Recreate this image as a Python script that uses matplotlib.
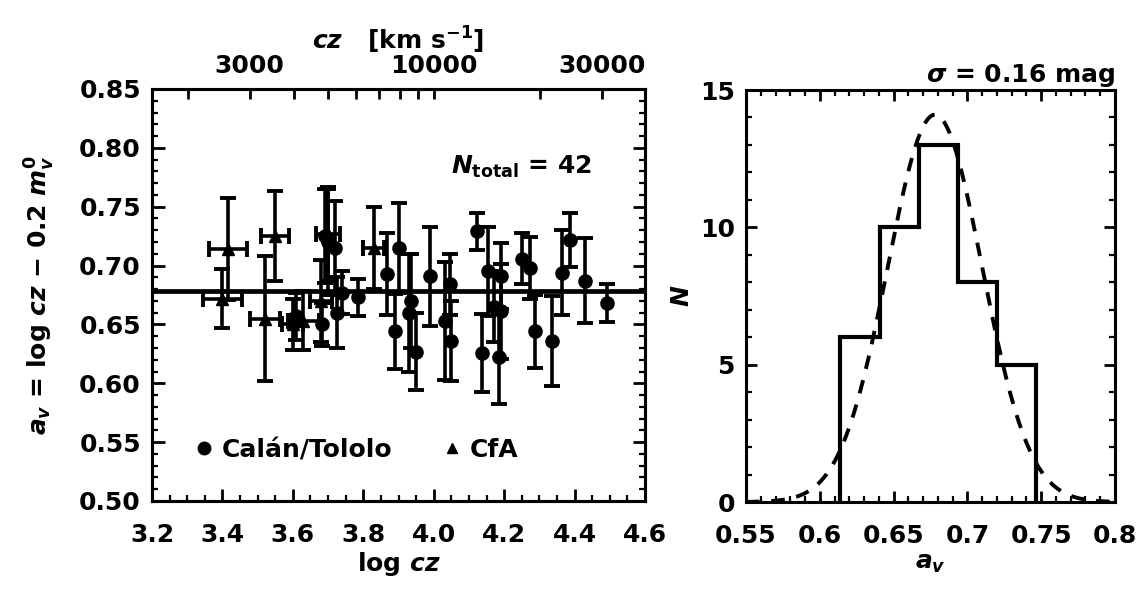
import numpy as np
import matplotlib.pyplot as plt
from matplotlib.ticker import MultipleLocator, FixedLocator, NullFormatter
from matplotlib.lines import Line2D

plt.rcParams.update({
    'font.family': 'DejaVu Sans',
    'font.weight': 'bold',
    'axes.labelweight': 'bold',
    'axes.titleweight': 'bold',
    'font.size': 18,
    'mathtext.fontset': 'custom',
    'mathtext.it': 'DejaVu Sans:bold:italic',
    'mathtext.rm': 'DejaVu Sans:bold',
    'mathtext.bf': 'DejaVu Sans:bold',
    'axes.linewidth': 2.2,
    'xtick.direction': 'in',
    'ytick.direction': 'in',
    'xtick.major.width': 2.0,
    'ytick.major.width': 2.0,
    'xtick.minor.width': 1.6,
    'ytick.minor.width': 1.6,
})

# Calan/Tololo sample: log cz, a_v, error
ct_logcz = [3.700, 3.720, 3.683, 3.740, 3.785, 3.867, 3.900, 3.890, 3.930, 3.950,
            3.935, 3.990, 4.047, 4.032, 4.050, 4.123, 4.155, 4.138, 4.190, 4.190,
            4.185, 4.251, 4.274, 4.288, 4.336, 4.365, 4.387, 4.430, 4.493, 3.690,
            3.725, 3.610, 4.170]
ct_av = [0.720, 0.715, 0.650, 0.677, 0.673, 0.693, 0.715, 0.644, 0.660, 0.627,
         0.670, 0.691, 0.684, 0.653, 0.636, 0.729, 0.695, 0.626, 0.691, 0.661,
         0.622, 0.706, 0.698, 0.644, 0.636, 0.694, 0.722, 0.687, 0.668, 0.725,
         0.660, 0.657, 0.665]
ct_err = [0.045, 0.040, 0.018, 0.018, 0.016, 0.035, 0.038, 0.032, 0.050, 0.033,
          0.040, 0.042, 0.026, 0.050, 0.034, 0.016, 0.038, 0.033, 0.028, 0.040,
          0.040, 0.022, 0.026, 0.031, 0.038, 0.036, 0.023, 0.036, 0.016, 0.040,
          0.030, 0.020, 0.030]

# CfA sample: log cz, a_v, errors in both coordinates
cfa_logcz = [3.416, 3.400, 3.549, 3.521, 3.630, 3.700, 3.830, 3.680, 3.600]
cfa_av = [0.714, 0.672, 0.725, 0.655, 0.653, 0.727, 0.715, 0.670, 0.650]
cfa_yerr = [0.043, 0.025, 0.038, 0.053, 0.025, 0.040, 0.035, 0.035, 0.022]
cfa_xerr = [0.053, 0.055, 0.040, 0.043, 0.043, 0.035, 0.030, 0.030, 0.030]

a_mean = 0.678
n_total = 42

# histogram of a_v
bin_edges = [0.614, 0.6405, 0.667, 0.6935, 0.720, 0.7465]
counts = [6, 10, 13, 8, 5]
g_mu, g_sigma, g_peak = 0.678, 0.032, 14.1

W, H = 1143, 599
fig = plt.figure(figsize=(W / 100, H / 100), dpi=100)
ax1 = fig.add_axes([152 / W, (H - 501) / H, (645 - 152) / W, (501 - 89) / H])
ax2 = fig.add_axes([746 / W, (H - 502) / H, (1115 - 746) / W, (502 - 90) / H])

# --- left: a_v vs log cz
eb = dict(fmt='none', ecolor='k', elinewidth=2.6, capsize=6, capthick=2.8)
ax1.errorbar(ct_logcz, ct_av, yerr=ct_err, **eb)
ax1.plot(ct_logcz, ct_av, 'o', color='k', ms=9.5)
ax1.errorbar(cfa_logcz, cfa_av, xerr=cfa_xerr, yerr=cfa_yerr, **eb)
ax1.plot(cfa_logcz, cfa_av, '^', color='k', ms=8)
ax1.axhline(a_mean, color='k', lw=3.4)

ax1.set_xlim(3.2, 4.6)
ax1.set_ylim(0.50, 0.85)
ax1.xaxis.set_major_locator(MultipleLocator(0.2))
ax1.xaxis.set_minor_locator(MultipleLocator(0.05))
ax1.yaxis.set_major_locator(MultipleLocator(0.05))
ax1.yaxis.set_minor_locator(MultipleLocator(0.01))
ax1.xaxis.set_major_formatter(plt.FormatStrFormatter('%.1f'))
ax1.yaxis.set_major_formatter(plt.FormatStrFormatter('%.2f'))
ax1.tick_params(which='major', length=9, right=True, top=False)
ax1.tick_params(which='minor', length=4, right=True, top=False)
ax1.tick_params(axis='x', pad=16)
ax1.tick_params(axis='y', pad=8)
ax1.set_xlabel(r'log $cz$', labelpad=2)
ax1.set_ylabel(r'$a_v$ = log $cz$ $-$ 0.2 $m_v^0$', labelpad=16)

# top axis in km/s
top = ax1.twiny()
top.set_xlim(ax1.get_xlim())
cz_ticks = [2000, 3000, 4000, 5000, 6000, 7000, 8000, 9000, 10000, 20000, 30000]
cz_labels = {3000: '3000', 10000: '10000', 30000: '30000'}
top.xaxis.set_major_locator(FixedLocator(np.log10(cz_ticks)))
top.set_xticklabels([cz_labels.get(c, '') for c in cz_ticks])
top.xaxis.set_minor_formatter(NullFormatter())
top.tick_params(which='major', length=7, direction='in', pad=8)
top.set_xlabel(r'$cz$   [km s$^{-1}$]', labelpad=3)

ax1.text(0.75, 0.81, r'$N_{\mathrm{total}}$ = 42', transform=ax1.transAxes,
         ha='center', va='center', fontsize=18)

handles = [Line2D([], [], ls='none', marker='o', color='k', ms=9),
           Line2D([], [], ls='none', marker='^', color='k', ms=7)]
ax1.legend(handles, ['Calán/Tololo', 'CfA'], ncol=2, loc='lower left',
           bbox_to_anchor=(0.04, 0.04), frameon=False, handletextpad=0.3,
           columnspacing=2.0, handlelength=0.8, fontsize=18)

# --- right: histogram with gaussian
xg = np.linspace(0.55, 0.80, 400)
ax2.plot(xg, g_peak * np.exp(-0.5 * ((xg - g_mu) / g_sigma) ** 2), 'k--',
         lw=2.8, dashes=(3.5, 3))
ax2.stairs(counts, bin_edges, baseline=0, color='k', lw=3)
ax2.set_xlim(0.55, 0.80)
ax2.set_ylim(0, 15)
ax2.xaxis.set_major_locator(MultipleLocator(0.05))
ax2.xaxis.set_minor_locator(MultipleLocator(0.01))
ax2.yaxis.set_major_locator(MultipleLocator(5))
ax2.yaxis.set_minor_locator(MultipleLocator(1))
ax2.xaxis.set_major_formatter(plt.FuncFormatter(lambda v, p: f'{v:g}'))
ax2.tick_params(which='major', length=8, top=True, right=True)
ax2.tick_params(which='minor', length=4, top=True, right=True)
ax2.tick_params(axis='x', pad=16)
ax2.tick_params(axis='y', pad=8)
ax2.set_xlabel(r'$a_v$', labelpad=2)
ax2.set_ylabel(r'$N$', labelpad=4)
ax2.set_title(r'$\sigma$ = 0.16 mag', loc='right', fontsize=18, pad=6)

fig.savefig('out.png', dpi=100)
